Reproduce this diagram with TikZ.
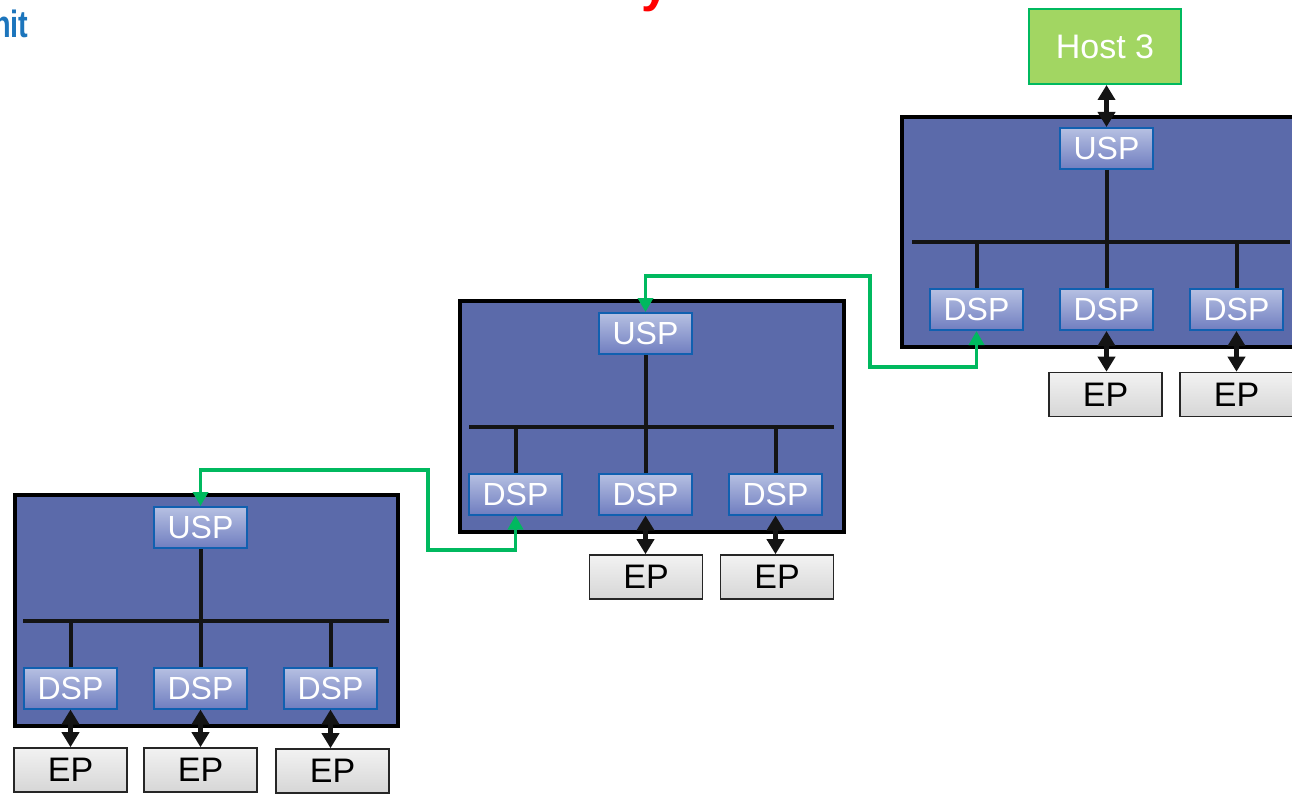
\documentclass[tikz,border=0pt]{standalone}
\usepackage{fontspec}
\usepackage{graphicx}
\setmainfont{Liberation Sans}
\usetikzlibrary{arrows.meta}

\definecolor{swfill}{RGB}{91,106,170}
\definecolor{portedge}{RGB}{16,96,176}
\definecolor{porttop}{RGB}{182,192,226}
\definecolor{portbot}{RGB}{112,126,192}
\definecolor{eptop}{RGB}{242,242,242}
\definecolor{epbot}{RGB}{214,214,214}
\definecolor{hostfill}{RGB}{162,214,98}
\definecolor{linkgreen}{RGB}{0,185,95}
\definecolor{logoblue}{RGB}{28,117,188}

\tikzset{
  switchbox/.style={draw=black, line width=4pt, fill=swfill, rectangle, inner sep=0pt},
  portbox/.style={draw=portedge, line width=2pt, rectangle, inner sep=0pt,
    top color=porttop, middle color=porttop, bottom color=portbot,
    minimum width=93pt, minimum height=41pt, text=white,
    font=\fontsize{32}{32}\selectfont},
  epbox/.style={draw=black!85, line width=1.6pt, rectangle, inner sep=0pt,
    top color=eptop, bottom color=epbot,
    minimum width=113pt, minimum height=44pt, text=black,
    font=\fontsize{34}{34}\selectfont},
  hostbox/.style={draw=linkgreen, line width=2pt, fill=hostfill, rectangle, inner sep=0pt,
    minimum width=152pt, minimum height=75pt, text=white,
    font=\fontsize{34}{34}\selectfont},
  wire/.style={draw=black!92, line width=4pt},
  busline/.style={draw=black!92, line width=4.4pt},
  biarrow/.style={draw=black!92, line width=4.4pt,
    {Triangle[width=17pt,length=15pt]}-{Triangle[width=17pt,length=15pt]}},
  greenlink/.style={draw=linkgreen, line width=3.6pt, line join=miter,
    {Triangle[width=15pt,length=14pt]}-{Triangle[width=15pt,length=14pt]}},
}

\begin{document}
\begin{tikzpicture}[x=1pt, y=-1pt]
\useasboundingbox (0,0) rectangle (1292,794);
\clip (0,0) rectangle (1292,794);

% title fragments at the top edge
\node[anchor=base west, inner sep=0pt, text=logoblue,
  font=\bfseries\fontsize{38}{38}\selectfont] (logo) at (-7,38) {\scalebox{0.76}[1]{nit}};
\node[anchor=base, inner sep=0pt, text=red,
  font=\bfseries\fontsize{50}{50}\selectfont] (titletail) at (655,1.5) {y};

% ---------- switch 1 (bottom left) ----------
\node[switchbox, minimum width=383pt, minimum height=231pt] (sw1) at (206.5,610.5) {};
\node[portbox] (u1) at (200.5,527.5) {USP};
\node[portbox] (d11) at (70.5,688) {DSP};
\node[portbox] (d12) at (200.5,688) {DSP};
\node[portbox] (d13) at (330.5,688) {DSP};
\coordinate (bus1w) at (23,621);
\coordinate (bus1e) at (389,621);
\draw[busline] (bus1w) -- (bus1e);
\draw[wire] (u1.south) -- (u1.south |- bus1w);
\foreach \d in {d11,d12,d13} \draw[wire] (\d.north) -- (\d.north |- bus1w);
\node[epbox] (e11) at (70.5,770) {EP};
\node[epbox] (e12) at (200.5,770) {EP};
\node[epbox] (e13) at (332.5,771) {EP};
\draw[biarrow] (d11.south) -- (d11.south |- e11.north);
\draw[biarrow] (d12.south) -- (d12.south |- e12.north);
\draw[biarrow] (d13.south) -- (d13.south |- e13.north);

% ---------- switch 2 (middle) ----------
\node[switchbox, minimum width=384pt, minimum height=231pt] (sw2) at (652,416.5) {};
\node[portbox] (u2) at (645.5,333.5) {USP};
\node[portbox] (d21) at (515.5,494) {DSP};
\node[portbox] (d22) at (645.5,494) {DSP};
\node[portbox] (d23) at (775.5,494) {DSP};
\coordinate (bus2w) at (469,427);
\coordinate (bus2e) at (834,427);
\draw[busline] (bus2w) -- (bus2e);
\draw[wire] (u2.south) -- (u2.south |- bus2w);
\foreach \d in {d21,d22,d23} \draw[wire] (\d.north) -- (\d.north |- bus2w);
\node[epbox] (e22) at (646,577) {EP};
\node[epbox] (e23) at (777,577) {EP};
\draw[biarrow] (d22.south) -- (d22.south |- e22.north);
\draw[biarrow] (d23.south) -- (d23.south |- e23.north);

% ---------- switch 3 (top right) ----------
\node[switchbox, minimum width=408pt, minimum height=230pt] (sw3) at (1106,232) {};
\node[portbox] (u3) at (1106.5,148.5) {USP};
\node[portbox] (d31) at (976.5,309.5) {DSP};
\node[portbox] (d32) at (1106.5,309.5) {DSP};
\node[portbox] (d33) at (1236.5,309.5) {DSP};
\coordinate (bus3w) at (912,242);
\coordinate (bus3e) at (1290,242);
\draw[busline] (bus3w) -- (bus3e);
\draw[wire] (u3.south) -- (u3.south |- bus3w);
\foreach \d in {d31,d32,d33} \draw[wire] (\d.north) -- (\d.north |- bus3w);
\node[epbox] (e32) at (1105.5,394.5) {EP};
\node[epbox] (e33) at (1236.5,394.5) {EP};
\draw[biarrow] (d32.south) -- (d32.south |- e32.north);
\draw[biarrow] (d33.south) -- (d33.south |- e33.north);

% host on top of switch 3
\node[hostbox] (host) at (1105,46.5) {Host 3};
\draw[biarrow] (host.south -| u3.north) -- (u3.north);

% ---------- cascade links between switches ----------
\coordinate (ga) at (428,550);
\coordinate (gb) at (428,470);
\draw[greenlink] (d21.south) -- (d21.south |- ga) -- (ga) -- (gb) -- (u1.north |- gb) -- (u1.north);
\coordinate (gc) at (870,367);
\coordinate (gd) at (870,276);
\draw[greenlink] (d31.south) -- (d31.south |- gc) -- (gc) -- (gd) -- (u2.north |- gd) -- (u2.north);

\end{tikzpicture}
\end{document}
